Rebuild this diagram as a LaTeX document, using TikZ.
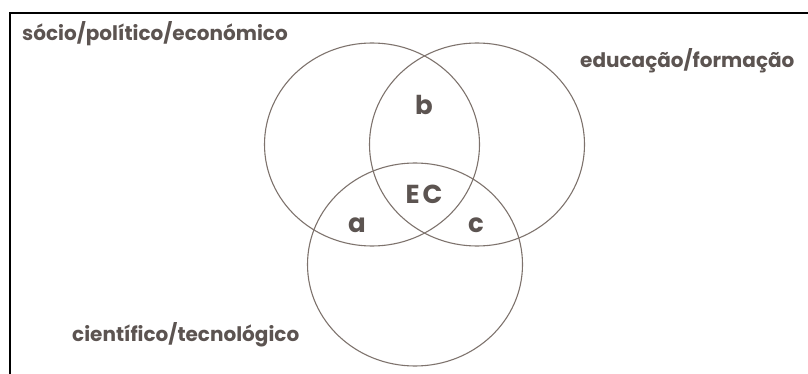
\documentclass[tikz,border=0pt]{standalone}
\usepackage{fontspec}
\setmainfont{Poppins}
\definecolor{vennline}{HTML}{7E736D}
\definecolor{venntext}{HTML}{5C5451}
\tikzset{
  sphere/.style={draw=vennline, line width=1.1pt},
  field/.style={text=venntext, font=\bfseries\fontsize{20}{20}\selectfont, anchor=base west, inner sep=0pt},
  zone/.style={text=venntext, font=\bfseries\fontsize{26}{26}\selectfont, anchor=base, inner sep=0pt},
}
\begin{document}
\begin{tikzpicture}[x=1pt,y=-1pt]
    \useasboundingbox (0,0) rectangle (808,374);
    \draw[line width=1.5pt] (10,374) -- (10,13) -- (808,13);

    % the three spheres
    \foreach \cx/\cy in {372/144.5, 477/144.5, 415/264.5}
      \draw[sphere] (\cx,\cy) ellipse [x radius=107.5, y radius=101.5];

    \node[field] (socio) at (22,40.5) {sócio/político/económico};
    \node[field] (educ) at (580,68) {educação/formação};
    \node[field] (cient) at (72,341.5) {científico/tecnológico};

    \node[zone] (zb) at (424,115) {b};
    \node[zone] (za) at (357,233) {a};
    \node[zone] (zc) at (476,233) {c};
    \node[zone] (ec) at (424,204) {E\hspace{3pt}C};
  \end{tikzpicture}
\end{document}
